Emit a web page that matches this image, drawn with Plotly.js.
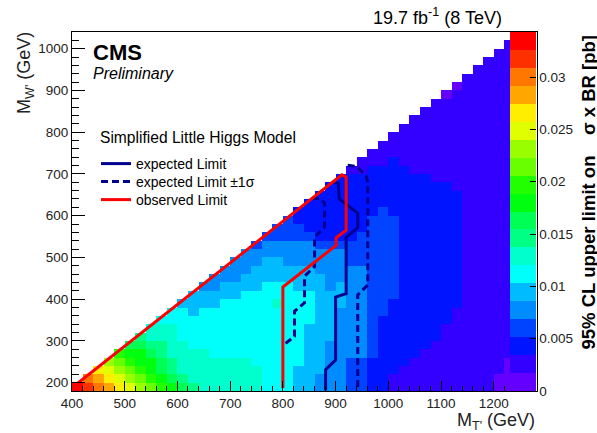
<!DOCTYPE html>
<html><head><meta charset="utf-8">
<script src="https://cdn.plot.ly/plotly-3.0.1.min.js"></script>
<style>html,body{margin:0;padding:0;background:#fff}#chart{width:597px;height:433px}</style>
</head><body><div id="chart"></div>
<script>
// Bin centres (GeV)
const mTprime = [410,430,450,470,490,510,530,550,570,590,610,630,650,670,690,710,730,750,770,790,810,830,850,870,890,910,930,950,970,990,1010,1030,1050,1070,1090,1110,1130,1150,1170,1190,1210,1230,1250,1270];
const mWprime = [190,210,230,250,270,290,310,330,350,370,390,410,430,450,470,490,510,530,550,570,590,610,630,650,670,690,710,730,750,770,790,810,830,850,870,890,910,930,950,970,990,1010,1030];

// Palette bands (index 0 = lowest)
const bandColors = ['#6300ff','#3300ff','#0014ff','#0044ff','#008bff','#00bbff','#00fffb','#00ffcc','#00ff85','#00ff55','#00ff0e','#22ff00','#69ff00','#99ff00','#e0ff00','#ffee00','#ffa700','#ff7700','#ff3000','#ff0000'];
const zMax = 0.0343;

// Per M_T' column, from lowest M_W' bin upward: "band*count" runs
const limitBandRuns = [
 "19",
 "18 17",
 "17 16 15",
 "16 15 14 13",
 "15 14 13 12 11",
 "14 13 12 11 10 9",
 "13 12 11 10*2 9 8",
 "12 11 10*2 9 8 7*2",
 "11 10 9*2 8*2 7*2 6",
 "10 9 8*2 7*4 6*2",
 "9 8 7*4 6*4 5",
 "8 7*4 6*4 5*3",
 "7*5 6*5 5*2 4",
 "7*4 6*6 5*2 4*2",
 "7*4 6*7 5*2 4*2",
 "7*4 6*7 5*2 4*3",
 "7*4 6*8 5*2 4*3",
 "7*3 6*9 5*3 4*2 3",
 "6*13 5*3 4*2 3",
 "6*10 7 6*2 5*3 4*2 3*2",
 "6*13 5*2 4*3 3*3",
 "5*3 6*9 5*3 4*3 3*2 2*2",
 "5*8 6*4 5*3 4*3 3 2*4",
 "4*2 5*12 4*3 3 2*6",
 "4*6 5*6 4*5 3 2*7",
 "4*10 5*3 4*4 3 2*8",
 "3*4 4*11 3*3 2*8 1",
 "3*4 4*11 3*4 2*7 1*2",
 "2*4 3*17 2*6 1*2",
 "2*9 3*13 2*5 1*3",
 "1*2 2*9 3*10 2*7 1*3",
 "1*3 2*24 1*5",
 "1*4 2*22 1*7",
 "1*5 2*21 1*8",
 "1*6 2*19 1*10",
 "1*8 2*17 1*10 0",
 "1*10 2*14 1*12 0",
 "1*38",
 "1*39",
 "1*40",
 "0*2 1*39",
 "0*4 1*38",
 "0*4 1*39",
 "0*4 1*39"
];

// Exclusion contours (GeV)
const expectedX = [893,905,907,920,942,942,920,920,900,900,881,881];
const expectedY = [680,678,640,627,606,571,548,413,405,254,231,182];
const plus1sX  = [923,940,958,961,961,942,942];
const plus1sY  = [721,718,695,680,434,410,181];
const minus1sX = [855,872,879,879,860,860,841,841,822,822,801];
const minus1sY = [642,640,630,573,548,478,455,391,371,311,290];
const observedX = [401,912,920,920,901,901,800,800];
const observedY = [189,698,693,565,547,529,429,187];

// ---- build matrix ----
const bw = zMax / bandColors.length;
const z = mWprime.map(() => mTprime.map(() => null));
limitBandRuns.forEach((s, c) => {
  let r = 0;
  s.split(' ').forEach(tok => {
    const p = tok.split('*');
    const b = +p[0], n = p.length > 1 ? +p[1] : 1;
    for (let k = 0; k < n; k++) { if (r < mWprime.length) z[r][c] = (b + 0.5) * bw; r++; }
  });
});
const cs = [];
bandColors.forEach((col, i) => { cs.push([i / bandColors.length, col]); cs.push([(i + 1) / bandColors.length, col]); });

const FONT = 'Liberation Sans, Arial, Helvetica, sans-serif';
const L = 72, R = 60, T = 32, B = 42, W = 597, H = 433;
const pw = W - L - R, ph = H - T - B;
const px = x => (x - L) / pw;
const py = y => (H - B - y) / ph;
const navy = '#000090';

const traces = [
 {type:'heatmap', x:mTprime, y:mWprime, z:z, zmin:0, zmax:zMax, colorscale:cs, hoverinfo:'skip', showlegend:false,
  colorbar:{x:px(510), xanchor:'left', y:0.5, yanchor:'middle', len:1, lenmode:'fraction', thickness:26, thicknessmode:'pixels',
    xpad:0, ypad:0, outlinewidth:0, tickmode:'array',
    tickvals:[0,0.005,0.01,0.015,0.02,0.025,0.03], ticktext:['0','0.005','0.01','0.015','0.02','0.025','0.03'],
    ticks:'inside', ticklen:6, tickwidth:1, tickcolor:'#000', tickfont:{family:FONT, size:13.5, color:'#222'}}},
 {type:'scatter', mode:'lines', x:expectedX, y:expectedY, name:'expected Limit', legend:'legend', line:{color:navy, width:3}},
 {type:'scatter', mode:'lines', x:plus1sX, y:plus1sY, name:'expected Limit \u00b11\u03c3', legend:'legend2', legendgroup:'s', line:{color:navy, width:3, dash:'7px,4px'}},
 {type:'scatter', mode:'lines', x:minus1sX, y:minus1sY, name:'expected Limit \u00b11\u03c3', legend:'legend2', legendgroup:'s', showlegend:false, line:{color:navy, width:3, dash:'7px,4px'}},
 {type:'scatter', mode:'lines', x:observedX, y:observedY, name:'observed Limit', legend:'legend3', line:{color:'#ff0000', width:3}}
];

const ann = (o) => Object.assign({xref:'paper', yref:'paper', showarrow:false}, o);
const leg = (yc) => ({x:px(96), y:py(yc), xanchor:'left', yanchor:'middle', bgcolor:'rgba(0,0,0,0)', borderwidth:0,
  font:{family:FONT, size:14, color:'#000'}, itemwidth:30, tracegroupgap:0});
const layout = {
  width:W, height:H, margin:{l:L, r:R, t:T, b:B, pad:0},
  paper_bgcolor:'#fff', plot_bgcolor:'#fff', font:{family:FONT, color:'#000'},
  xaxis:{range:[400,1282], tick0:0, dtick:100, ticks:'inside', ticklen:10, tickcolor:'#000', showline:true, linecolor:'#000', mirror:true,
    showgrid:false, zeroline:false, tickfont:{family:FONT, size:13.5, color:'#222'},
    minor:{dtick:20, ticks:'inside', ticklen:5, tickcolor:'#000', showgrid:false}},
  yaxis:{range:[180,1040], tick0:0, dtick:100, ticks:'inside', ticklen:13, tickcolor:'#000', showline:true, linecolor:'#000', mirror:true,
    showgrid:false, zeroline:false, tickfont:{family:FONT, size:13.5, color:'#222'},
    minor:{dtick:20, ticks:'inside', ticklen:7, tickcolor:'#000', showgrid:false}},
  showlegend:true,
  legend:leg(164), legend2:leg(182), legend3:leg(200),
  annotations:[
    ann({x:px(91), y:py(52), xanchor:'left', yanchor:'middle', text:'<b>CMS</b>', font:{family:FONT, size:22, color:'#000'}}),
    ann({x:px(91), y:py(73), xanchor:'left', yanchor:'middle', text:'<i>Preliminary</i>', font:{family:FONT, size:16, color:'#000'}}),
    ann({x:px(98), y:py(137), xanchor:'left', yanchor:'middle', text:'Simplified Little Higgs Model', font:{family:FONT, size:15.6, color:'#000'}}),
    ann({x:px(504), y:py(17), xanchor:'right', yanchor:'middle', text:'19.7 fb<sup>-1</sup> (8 TeV)', font:{family:FONT, size:18, color:'#000'}}),
    ann({x:px(537), y:py(421), xanchor:'right', yanchor:'middle', text:"M<sub>T'</sub> (GeV)", font:{family:FONT, size:18, color:'#222'}}),
    ann({x:px(25), y:py(30), xanchor:'center', yanchor:'top', textangle:-90, text:"M<sub>W'</sub> (GeV)", font:{family:FONT, size:18, color:'#222'}}),
    ann({x:px(588), y:py(33), xanchor:'center', yanchor:'top', textangle:-90, text:'<b>95% CL upper limit on\u00a0\u00a0\u00a0\u00a0\u03c3 x BR [pb]</b>', font:{family:FONT, size:18.5, color:'#000'}})
  ]
};
Plotly.newPlot('chart', traces, layout, {staticPlot:true, displayModeBar:false});
</script></body></html>
